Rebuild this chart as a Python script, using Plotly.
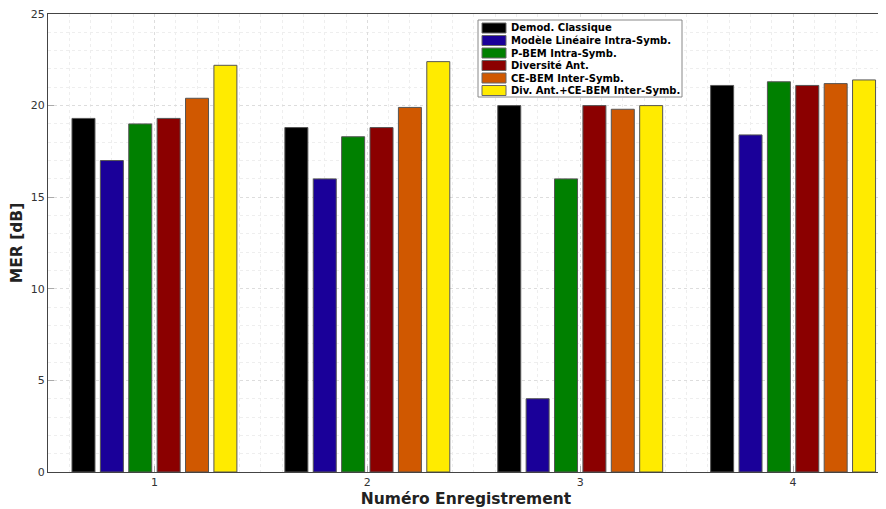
import plotly.graph_objects as go

records = [1, 2, 3, 4]
series_names = ["Demod. Classique", "Modèle Linéaire Intra-Symb.", "P-BEM Intra-Symb.",
                "Diversité Ant.", "CE-BEM Inter-Symb.", "Div. Ant.+CE-BEM Inter-Symb."]
demod = [19.3, 18.8, 20.0, 21.1]
lineaire = [17.0, 16.0, 4.0, 18.4]
pbem = [19.0, 18.3, 16.0, 21.3]
diversite = [19.3, 18.8, 20.0, 21.1]
cebem = [20.4, 19.9, 19.8, 21.2]
divcebem = [22.2, 22.4, 20.0, 21.4]
colors = ["#000000", "#1a0099", "#008000", "#8b0000", "#d05800", "#ffeb00"]
yticks = [0, 5, 10, 15, 20, 25]

# page has an 8px body margin, so the figure starts at (8, 8) in the window
W, H = 878, 501
L, R, T, B = 40, 2, 6, 37
pw, ph = W - L - R, H - T - B
# plot area in window pixels: x 48..884, y 14..472


def px(x):
    return (x - 48) / pw


def py(y):
    return (472 - y) / ph


fig = go.Figure()
for name, vals, c in zip(series_names, [demod, lineaire, pbem, diversite, cebem, divcebem], colors):
    fig.add_trace(go.Bar(x=records, y=vals, name=name, showlegend=False,
                         marker=dict(color=c, line=dict(color="#555555", width=1))))

font = "DejaVu Sans"
# custom compact legend (box, swatches, labels)
shapes = [dict(type="rect", xref="paper", yref="paper", x0=px(478), x1=px(682), y0=py(97), y1=py(20),
               fillcolor="white", line=dict(color="#888888", width=1), layer="above")]
annotations = []
for i, (name, c) in enumerate(zip(series_names, colors)):
    yc = 28 + i * 12.5
    shapes.append(dict(type="rect", xref="paper", yref="paper", x0=px(482), x1=px(506),
                       y0=py(yc + 5), y1=py(yc - 5), fillcolor=c,
                       line=dict(color="#666666", width=1), layer="above"))
    annotations.append(dict(xref="paper", yref="paper", x=px(509), y=py(yc), xanchor="left",
                            yanchor="middle", showarrow=False, text="<b>%s</b>" % name,
                            font=dict(family=font, size=10, color="#000000")))

fig.update_layout(
    width=W, height=H, barmode="group", bargap=0.2, bargroupgap=0.19,
    margin=dict(l=L, r=R, t=T, b=B),
    plot_bgcolor="white", paper_bgcolor="white",
    font=dict(family=font, size=11, color="#333333"),
    shapes=shapes, annotations=annotations,
    xaxis=dict(range=[0.5, 4.427], tickvals=records, ticktext=[str(r) for r in records],
               automargin=False, ticklabeloverflow="allow",
               showline=True, linecolor="#444444", mirror=True, ticks="inside", ticklen=6,
               tickcolor="#aaaaaa",
               showgrid=True, gridcolor="#dddddd", griddash="dot", gridwidth=1,
               minor=dict(dtick=0.1, showgrid=True, gridcolor="#eeeeee", griddash="dot"),
               zeroline=False,
               title=dict(text="<b>Numéro Enregistrement</b>", font=dict(size=15.5, color="#222222"), standoff=4)),
    yaxis=dict(range=[0, 25], tickvals=yticks, automargin=False, ticklabeloverflow="allow",
               showline=True, linecolor="#444444", mirror=True, ticks="inside", ticklen=6,
               tickcolor="#aaaaaa",
               showgrid=True, gridcolor="#dddddd", griddash="dot", gridwidth=1,
               minor=dict(dtick=1, showgrid=True, gridcolor="#eeeeee", griddash="dot"),
               zeroline=False,
               title=dict(text="<b>MER [dB]</b>", font=dict(size=15.5, color="#222222"), standoff=8)),
)
fig.write_html("out.html")
